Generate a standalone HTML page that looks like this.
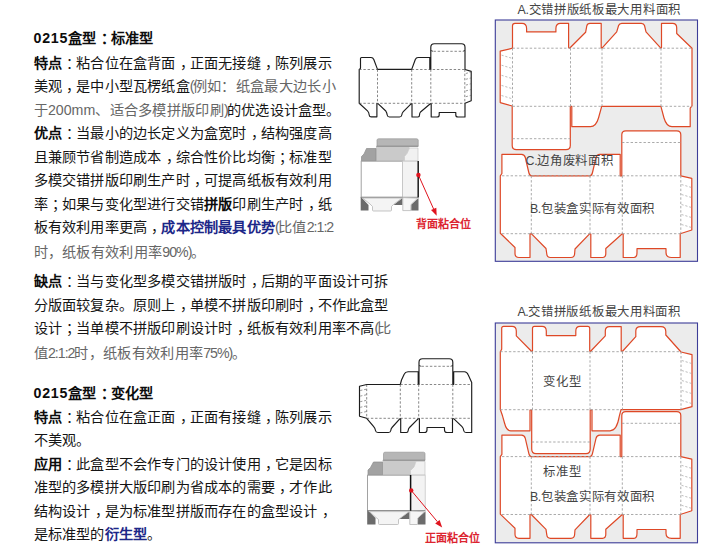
<!DOCTYPE html>
<html lang="zh-CN">
<head>
<meta charset="utf-8">
<title>0215盒型</title>
<style>
html,body{margin:0;padding:0;background:#fff;}
body{width:720px;height:560px;position:relative;overflow:hidden;font-family:"Liberation Sans",sans-serif;color:#151515;}
.ln{position:absolute;white-space:nowrap;font-size:14.2px;line-height:20.0px;height:20.0px;letter-spacing:0.2px;}
.ln i{font-style:normal;}
.pc{position:relative;left:0.3em;}
.ln i.dg{letter-spacing:0.75px;}
.ln i.nr{letter-spacing:-1px;}
.ln b{font-weight:700;color:#0c0c0c;}
.ln b.bl{color:#1c2788;}
.lt{font-weight:300;color:#666;letter-spacing:0.3px;}
.ln i.pr{letter-spacing:-1.7px;}
.ln i.pq{letter-spacing:-1.6px;}
.ln i.mm{letter-spacing:0;}
.pl{position:absolute;white-space:nowrap;font-size:12.4px;line-height:16px;height:16px;color:#444;letter-spacing:0.7px;font-weight:300;}
.pl i{font-style:normal;letter-spacing:-0.4px;}
.rl{position:absolute;white-space:nowrap;font-size:11px;line-height:16px;height:16px;color:#dc2430;font-weight:700;}
svg{position:absolute;left:0;top:0;}
</style>
</head>
<body>
<svg width="720" height="560" viewBox="0 0 720 560" fill="none">
<rect x="495.3" y="20" width="202.2" height="241.3" fill="#ececec" stroke="#3d3d98" stroke-width="1.1"/>
<rect x="495.3" y="323" width="202.2" height="219.8" fill="#ececec" stroke="#3d3d98" stroke-width="1.1"/>
<path d="M512.5,48.2 V25.8 Q512.5,23.3 515,23.3 H522 Q526.6,23.3 526.6,28.5 V31.9 H555.9 V28.5 Q555.9,23.3 560.5,23.3 H568.6 V47.6 L569.6,48.2 L585.6,32.3 L586.8,25.8 Q587.3,23.3 590,23.3 H601.2 V47.6 L602,48.2 L616.7,31.8 L618.6,25.5 Q619.3,23.3 621.8,23.3 H641.3 Q643.8,23.3 644.5,25.5 L646,31.8 L660.8,48.2 L661.5,47.6 V23.3 H672.5 Q676.7,23.3 676.7,27.8 V33.5 L692,48.2 V105.8 L690.2,108.2 V126.7 H672 Q666.5,126.7 664,118 L660.9,106.3 H601.7 L598.5,118 Q596,126.7 590.5,126.7 H571.8 V106.3 L570.3,106.3 V145.5 Q570.3,149.7 566,149.7 H516.5 Q512.2,149.7 512.2,145.5 V106 L500.2,102.6 V51.2 Z" fill="#fff" stroke="#de4826" stroke-width="1.2" stroke-linejoin="round"/>
<line x1="512.50" y1="48.20" x2="692.00" y2="48.20" stroke="#a0a0a0" stroke-width="0.9" stroke-dasharray="2.4 1.9"/>
<line x1="512.50" y1="106.30" x2="601.00" y2="106.30" stroke="#a0a0a0" stroke-width="0.9" stroke-dasharray="2.4 1.9"/>
<line x1="661.00" y1="106.30" x2="692.00" y2="106.30" stroke="#a0a0a0" stroke-width="0.9" stroke-dasharray="2.4 1.9"/>
<line x1="512.50" y1="48.20" x2="512.50" y2="106.30" stroke="#a0a0a0" stroke-width="0.9" stroke-dasharray="2.4 1.9"/>
<line x1="570.50" y1="48.20" x2="570.50" y2="106.30" stroke="#a0a0a0" stroke-width="0.9" stroke-dasharray="2.4 1.9"/>
<line x1="602.00" y1="48.20" x2="602.00" y2="106.30" stroke="#a0a0a0" stroke-width="0.9" stroke-dasharray="2.4 1.9"/>
<line x1="661.00" y1="48.20" x2="661.00" y2="106.30" stroke="#a0a0a0" stroke-width="0.9" stroke-dasharray="2.4 1.9"/>
<line x1="512.50" y1="138.70" x2="570.30" y2="138.70" stroke="#a0a0a0" stroke-width="0.9" stroke-dasharray="2.4 1.9"/>
<line x1="501.50" y1="55.10" x2="512.00" y2="58.30" stroke="#a0a0a0" stroke-width="0.7" stroke-dasharray="2.2 1.8"/>
<line x1="501.50" y1="65.20" x2="512.00" y2="68.40" stroke="#a0a0a0" stroke-width="0.7" stroke-dasharray="2.2 1.8"/>
<line x1="501.50" y1="75.30" x2="512.00" y2="78.50" stroke="#a0a0a0" stroke-width="0.7" stroke-dasharray="2.2 1.8"/>
<line x1="501.50" y1="85.40" x2="512.00" y2="88.60" stroke="#a0a0a0" stroke-width="0.7" stroke-dasharray="2.2 1.8"/>
<line x1="501.50" y1="95.50" x2="512.00" y2="98.70" stroke="#a0a0a0" stroke-width="0.7" stroke-dasharray="2.2 1.8"/>
<g transform="translate(0,0)">
<path d="M501.9,154.3 H521.5 Q524.5,154.3 525.3,157.5 L528.8,172.5 Q529.6,175.8 531.3,175.8 H590 Q591.7,175.8 592.5,172.5 L596,157.5 Q596.8,154.3 599.8,154.3 H620.2 V175.8 H621.8 V134.8 Q621.8,130.8 625.8,130.8 H676.8 Q680.8,130.8 680.8,134.8 V175.8 L691.8,178.4 V230 L680.2,233.7 V257.5 H671.5 Q666,257.5 666,252.5 V248.7 H637 V252.5 Q637,257.5 634,257.5 H623.2 V234 L622.3,233.7 L605.8,248.5 V253.5 Q605.8,257.5 602.5,257.5 H590.8 V234 L589.8,233.7 L575,249 L574.6,254 Q574.3,257.5 571,257.5 H550.5 Q547,257.5 546.8,254 L546,248.5 L531.3,233.7 L530,234 V257.5 H519 Q515,257.5 515,253.5 V247.5 L500.3,233.3 V175.8 L501.9,173.5 Z" fill="#fff" stroke="#de4826" stroke-width="1.2" stroke-linejoin="round"/>
<line x1="502.00" y1="175.80" x2="680.80" y2="175.80" stroke="#a0a0a0" stroke-width="0.9" stroke-dasharray="2.4 1.9"/>
<line x1="502.00" y1="233.70" x2="680.80" y2="233.70" stroke="#a0a0a0" stroke-width="0.9" stroke-dasharray="2.4 1.9"/>
<line x1="531.30" y1="175.80" x2="531.30" y2="233.70" stroke="#a0a0a0" stroke-width="0.9" stroke-dasharray="2.4 1.9"/>
<line x1="590.00" y1="175.80" x2="590.00" y2="233.70" stroke="#a0a0a0" stroke-width="0.9" stroke-dasharray="2.4 1.9"/>
<line x1="622.30" y1="175.80" x2="622.30" y2="233.70" stroke="#a0a0a0" stroke-width="0.9" stroke-dasharray="2.4 1.9"/>
<line x1="680.80" y1="175.80" x2="680.80" y2="233.70" stroke="#a0a0a0" stroke-width="0.9" stroke-dasharray="2.4 1.9"/>
<line x1="622.00" y1="142.50" x2="680.80" y2="142.50" stroke="#a0a0a0" stroke-width="0.9" stroke-dasharray="2.4 1.9"/>
<line x1="681.50" y1="184.50" x2="691.50" y2="187.50" stroke="#a0a0a0" stroke-width="0.7" stroke-dasharray="2.2 1.8"/>
<line x1="681.50" y1="194.50" x2="691.50" y2="197.50" stroke="#a0a0a0" stroke-width="0.7" stroke-dasharray="2.2 1.8"/>
<line x1="681.50" y1="204.50" x2="691.50" y2="207.50" stroke="#a0a0a0" stroke-width="0.7" stroke-dasharray="2.2 1.8"/>
<line x1="681.50" y1="214.50" x2="691.50" y2="217.50" stroke="#a0a0a0" stroke-width="0.7" stroke-dasharray="2.2 1.8"/>
<line x1="681.50" y1="224.50" x2="691.50" y2="227.50" stroke="#a0a0a0" stroke-width="0.7" stroke-dasharray="2.2 1.8"/>
</g>
<path d="M500.3,351.7 L501.7,349.2 V328.3 Q501.7,326.3 503.7,326.3 H512 Q516.3,326.3 516.3,331 V335.8 L531.7,351.5 L532.5,351 V328.3 Q532.5,326.3 534.5,326.3 H542 Q546.3,326.3 546.3,331 V335.6 H575.8 V331 Q575.8,326.3 580,326.3 H587.7 Q589.7,326.3 589.7,328.3 V351 L590.4,351.5 L605.3,335.8 V331 Q605.3,326.6 609.5,326.6 H621.2 V351 L622.3,351.5 L635.8,336.7 V331 Q635.8,326.6 640.5,326.6 H661 Q665.8,326.6 665.8,331.5 V335 L681,352 L692,354.7 V406.7 L680.8,409.7 H621 L619.2,416.7 C618,424 616,430.8 610,430.8 H592 V410 L590.2,410 V449 Q590.2,453.7 586,453.7 H536 Q531.7,453.7 531.7,449 V410 L530,410 V430.8 H510.8 C507,430.8 505.5,427 504.5,423 L502.5,415.8 L500.3,409.5 Z" fill="#fff" stroke="#de4826" stroke-width="1.2" stroke-linejoin="round"/>
<line x1="500.30" y1="351.70" x2="681.00" y2="351.70" stroke="#a0a0a0" stroke-width="0.9" stroke-dasharray="2.4 1.9"/>
<line x1="500.30" y1="409.70" x2="621.00" y2="409.70" stroke="#a0a0a0" stroke-width="0.9" stroke-dasharray="2.4 1.9"/>
<line x1="532.50" y1="351.70" x2="532.50" y2="409.70" stroke="#a0a0a0" stroke-width="0.9" stroke-dasharray="2.4 1.9"/>
<line x1="590.00" y1="351.70" x2="590.00" y2="409.70" stroke="#a0a0a0" stroke-width="0.9" stroke-dasharray="2.4 1.9"/>
<line x1="622.50" y1="351.70" x2="622.50" y2="409.70" stroke="#a0a0a0" stroke-width="0.9" stroke-dasharray="2.4 1.9"/>
<line x1="681.00" y1="351.70" x2="681.00" y2="409.70" stroke="#a0a0a0" stroke-width="0.9" stroke-dasharray="2.4 1.9"/>
<line x1="531.70" y1="442.00" x2="590.20" y2="442.00" stroke="#a0a0a0" stroke-width="0.9" stroke-dasharray="2.4 1.9"/>
<line x1="681.80" y1="360.50" x2="691.60" y2="363.50" stroke="#a0a0a0" stroke-width="0.7" stroke-dasharray="2.2 1.8"/>
<line x1="681.80" y1="370.50" x2="691.60" y2="373.50" stroke="#a0a0a0" stroke-width="0.7" stroke-dasharray="2.2 1.8"/>
<line x1="681.80" y1="380.50" x2="691.60" y2="383.50" stroke="#a0a0a0" stroke-width="0.7" stroke-dasharray="2.2 1.8"/>
<line x1="681.80" y1="390.50" x2="691.60" y2="393.50" stroke="#a0a0a0" stroke-width="0.7" stroke-dasharray="2.2 1.8"/>
<line x1="681.80" y1="400.50" x2="691.60" y2="403.50" stroke="#a0a0a0" stroke-width="0.7" stroke-dasharray="2.2 1.8"/>
<g transform="translate(0,280.8)">
<path d="M501.9,154.3 H521.5 Q524.5,154.3 525.3,157.5 L528.8,172.5 Q529.6,175.8 531.3,175.8 H590 Q591.7,175.8 592.5,172.5 L596,157.5 Q596.8,154.3 599.8,154.3 H620.2 V175.8 H621.8 V134.8 Q621.8,130.8 625.8,130.8 H676.8 Q680.8,130.8 680.8,134.8 V175.8 L691.8,178.4 V230 L680.2,233.7 V257.5 H671.5 Q666,257.5 666,252.5 V248.7 H637 V252.5 Q637,257.5 634,257.5 H623.2 V234 L622.3,233.7 L605.8,248.5 V253.5 Q605.8,257.5 602.5,257.5 H590.8 V234 L589.8,233.7 L575,249 L574.6,254 Q574.3,257.5 571,257.5 H550.5 Q547,257.5 546.8,254 L546,248.5 L531.3,233.7 L530,234 V257.5 H519 Q515,257.5 515,253.5 V247.5 L500.3,233.3 V175.8 L501.9,173.5 Z" fill="#fff" stroke="#de4826" stroke-width="1.2" stroke-linejoin="round"/>
<line x1="502.00" y1="175.80" x2="680.80" y2="175.80" stroke="#a0a0a0" stroke-width="0.9" stroke-dasharray="2.4 1.9"/>
<line x1="502.00" y1="233.70" x2="680.80" y2="233.70" stroke="#a0a0a0" stroke-width="0.9" stroke-dasharray="2.4 1.9"/>
<line x1="531.30" y1="175.80" x2="531.30" y2="233.70" stroke="#a0a0a0" stroke-width="0.9" stroke-dasharray="2.4 1.9"/>
<line x1="590.00" y1="175.80" x2="590.00" y2="233.70" stroke="#a0a0a0" stroke-width="0.9" stroke-dasharray="2.4 1.9"/>
<line x1="622.30" y1="175.80" x2="622.30" y2="233.70" stroke="#a0a0a0" stroke-width="0.9" stroke-dasharray="2.4 1.9"/>
<line x1="680.80" y1="175.80" x2="680.80" y2="233.70" stroke="#a0a0a0" stroke-width="0.9" stroke-dasharray="2.4 1.9"/>
<line x1="622.00" y1="142.50" x2="680.80" y2="142.50" stroke="#a0a0a0" stroke-width="0.9" stroke-dasharray="2.4 1.9"/>
<line x1="681.50" y1="184.50" x2="691.50" y2="187.50" stroke="#a0a0a0" stroke-width="0.7" stroke-dasharray="2.2 1.8"/>
<line x1="681.50" y1="194.50" x2="691.50" y2="197.50" stroke="#a0a0a0" stroke-width="0.7" stroke-dasharray="2.2 1.8"/>
<line x1="681.50" y1="204.50" x2="691.50" y2="207.50" stroke="#a0a0a0" stroke-width="0.7" stroke-dasharray="2.2 1.8"/>
<line x1="681.50" y1="214.50" x2="691.50" y2="217.50" stroke="#a0a0a0" stroke-width="0.7" stroke-dasharray="2.2 1.8"/>
<line x1="681.50" y1="224.50" x2="691.50" y2="227.50" stroke="#a0a0a0" stroke-width="0.7" stroke-dasharray="2.2 1.8"/>
</g>
<path d="M359.2,69.5 L360.5,68.3 V58.5 Q360.5,57.5 361.5,57.5 H371 Q373,57.5 373.8,59.5 L377.5,69.4 H411.7 L415.3,59.5 Q416.2,57.5 418,57.5 H429.8 V69.4 L430.8,69.4 V47.2 Q430.8,43.7 434.3,43.7 H461.5 Q465,43.7 465,47.2 V69.5 L471.2,71.4 V100.8 L465,103.3 V117 H458 Q455.8,117 455.8,115 V112.5 H439.2 V115 Q439.2,117 437,117 H431.2 V103.6 L430.3,103.7 L420.8,111.7 Q419.5,113 419.5,115 Q419.5,117 418,117 H412 V103.6 L411.3,103.7 L403.3,111.7 Q402,113 401.8,115 Q401.5,117 399.5,117 H389.5 Q387.5,117 387.2,115 Q387,113 385.8,111 L378,103.7 L376.9,103.6 V116.8 H371 Q369.3,116.8 369.2,115 Q369,112.2 367.5,110.8 L359.2,103.3 Z" fill="#fff" stroke="#1c1c1c" stroke-width="1.15" stroke-linejoin="round"/>
<line x1="359.20" y1="69.50" x2="377.50" y2="69.50" stroke="#555" stroke-width="0.7" stroke-dasharray="2.4 1.8"/>
<line x1="411.70" y1="69.50" x2="465.00" y2="69.50" stroke="#555" stroke-width="0.7" stroke-dasharray="2.4 1.8"/>
<line x1="359.20" y1="103.30" x2="465.00" y2="103.30" stroke="#555" stroke-width="0.7" stroke-dasharray="2.4 1.8"/>
<line x1="377.50" y1="69.50" x2="377.50" y2="103.30" stroke="#555" stroke-width="0.7" stroke-dasharray="2.4 1.8"/>
<line x1="411.70" y1="69.50" x2="411.70" y2="103.30" stroke="#555" stroke-width="0.7" stroke-dasharray="2.4 1.8"/>
<line x1="430.80" y1="69.50" x2="430.80" y2="103.30" stroke="#555" stroke-width="0.7" stroke-dasharray="2.4 1.8"/>
<line x1="464.80" y1="69.50" x2="464.80" y2="103.30" stroke="#555" stroke-width="0.7" stroke-dasharray="2.4 1.8"/>
<line x1="433.50" y1="51.30" x2="462.50" y2="51.30" stroke="#555" stroke-width="0.7" stroke-dasharray="2.4 1.8"/>
<path d="M430.8,50.5 L433,51.3 M465,50.5 L462.8,51.3" stroke="#1c1c1c" stroke-width="0.8" fill="none"/>
<line x1="465.80" y1="73.50" x2="470.80" y2="72.20" stroke="#555" stroke-width="0.6" stroke-dasharray="2.2 1.8"/>
<line x1="465.80" y1="79.30" x2="470.80" y2="78.00" stroke="#555" stroke-width="0.6" stroke-dasharray="2.2 1.8"/>
<line x1="465.80" y1="85.10" x2="470.80" y2="83.80" stroke="#555" stroke-width="0.6" stroke-dasharray="2.2 1.8"/>
<line x1="465.80" y1="90.90" x2="470.80" y2="89.60" stroke="#555" stroke-width="0.6" stroke-dasharray="2.2 1.8"/>
<line x1="465.80" y1="96.70" x2="470.80" y2="95.40" stroke="#555" stroke-width="0.6" stroke-dasharray="2.2 1.8"/>
<path d="M366.7,384.5 L359.5,386.3 V416.3 L366.7,418.3 L373.7,426.7 Q375.3,428.5 375.5,430.5 Q375.8,432.5 378,432.5 H388.5 Q390.5,432.5 390.8,430.5 Q391,428.5 392,427.5 L400,418.7 L400.7,418.6 V432.5 H406.5 Q408,432.5 408.2,430.5 Q408.3,428.5 409.5,427.5 L418.3,418.7 L419.4,418.6 V432.5 H424.5 Q427,432.5 427,430 V427.5 H444.5 V430 Q444.5,432.5 447,432.5 H452.5 V418.6 L453.7,418.7 L462,426.7 Q463.5,428.3 463.7,430.5 Q464,432.5 466,432.5 H471.7 V382.5 L468.3,375 Q467,371.7 464.5,371.7 H453.7 V384.3 L452.8,384.3 V362.2 Q452.8,358.7 449.3,358.7 H422.5 Q419,358.7 419,362.2 V384.3 L418.2,384.3 V371.7 H408 Q405.3,371.7 404.3,374 L401.5,380 L400.3,384.5 Z" fill="#fff" stroke="#1c1c1c" stroke-width="1.15" stroke-linejoin="round"/>
<line x1="400.30" y1="384.50" x2="471.70" y2="384.50" stroke="#555" stroke-width="0.7" stroke-dasharray="2.4 1.8"/>
<line x1="366.70" y1="418.30" x2="471.70" y2="418.30" stroke="#555" stroke-width="0.7" stroke-dasharray="2.4 1.8"/>
<line x1="366.70" y1="384.50" x2="366.70" y2="418.30" stroke="#555" stroke-width="0.7" stroke-dasharray="2.4 1.8"/>
<line x1="400.30" y1="384.50" x2="400.30" y2="418.30" stroke="#555" stroke-width="0.7" stroke-dasharray="2.4 1.8"/>
<line x1="418.70" y1="384.50" x2="418.70" y2="418.30" stroke="#555" stroke-width="0.7" stroke-dasharray="2.4 1.8"/>
<line x1="452.80" y1="384.50" x2="452.80" y2="418.30" stroke="#555" stroke-width="0.7" stroke-dasharray="2.4 1.8"/>
<line x1="421.50" y1="366.30" x2="450.50" y2="366.30" stroke="#555" stroke-width="0.7" stroke-dasharray="2.4 1.8"/>
<path d="M419,365.5 L421.2,366.3 M452.8,365.5 L450.6,366.3" stroke="#1c1c1c" stroke-width="0.8" fill="none"/>
<line x1="360.20" y1="390.50" x2="366.30" y2="389.20" stroke="#555" stroke-width="0.6" stroke-dasharray="2.2 1.8"/>
<line x1="360.20" y1="396.10" x2="366.30" y2="394.80" stroke="#555" stroke-width="0.6" stroke-dasharray="2.2 1.8"/>
<line x1="360.20" y1="401.70" x2="366.30" y2="400.40" stroke="#555" stroke-width="0.6" stroke-dasharray="2.2 1.8"/>
<line x1="360.20" y1="407.30" x2="366.30" y2="406.00" stroke="#555" stroke-width="0.6" stroke-dasharray="2.2 1.8"/>
<line x1="360.20" y1="412.90" x2="366.30" y2="411.60" stroke="#555" stroke-width="0.6" stroke-dasharray="2.2 1.8"/>
<path d="M377.0,146.0 V140.3 Q377.0,138.8 378.5,138.8 H416.7 Q418.2,138.8 418.2,140.3 V146.0 Z" fill="#b6b6b6" stroke="#9a9a9a" stroke-width="0.7"/>
<line x1="376.2" y1="146.4" x2="418.4" y2="146.4" stroke="#888" stroke-width="0.9"/>
<polygon points="376,147 409.5,147 409.5,148 407,153.5 404.5,156.5 404.5,161 376,161" fill="#cacaca"/>
<polygon points="409.5,148 418,148 418,161 404.5,161 404.5,156.5 407,153.5" fill="#f1f1f1" stroke="#c4c4c4" stroke-width="0.7"/>
<polygon points="361.5,161 361.5,156.5 364,154 366.5,148.5 376,148.5 376,161" fill="#a2a2a2" stroke="#8c8c8c" stroke-width="0.7"/>
<rect x="361.2" y="161.2" width="41.3" height="36.1" fill="#fff" stroke="#a2a2a2" stroke-width="1"/>
<rect x="402.5" y="161.2" width="15.5" height="36.1" fill="#f3f3f3" stroke="#c6c6c6" stroke-width="0.8"/>
<line x1="360.7" y1="197.3" x2="418.0" y2="197.3" stroke="#8a8a8a" stroke-width="0.9"/>
<polygon points="360.7,197.3 360.7,210.6 368.5,210.6 368.5,205 362,198" fill="#6b6b6b"/>
<polygon points="393.5,205 402.5,198 402.5,205" fill="#6b6b6b"/>
<polygon points="411.2,204.5 418.5,198 418.5,210.6 411.2,210.6" fill="#6b6b6b"/>
<path d="M362.5,198 L370,204 L372.5,206.5 V210 Q372.5,211 373.5,211 H390.5 Q391.5,211 391.5,210 V206.5 L393.5,204.5 L402,198 Z" fill="#f4f4f4" stroke="#b6b6b6" stroke-width="0.8" stroke-linejoin="round"/>
<path d="M402.8,197.6 V210.6 H410.8 L411,204.5 L417.6,198.2 Z" fill="#f6f6f6" stroke="#b6b6b6" stroke-width="0.8" stroke-linejoin="round"/>
<line x1="418.2" y1="161" x2="418.2" y2="197.5" stroke="#111" stroke-width="1.4"/>
<path d="M383.5,460.0 V453.7 Q383.5,452.2 385.0,452.2 H423.5 Q425.0,452.2 425.0,453.7 V460.0 Z" fill="#b6b6b6" stroke="#9a9a9a" stroke-width="0.7"/>
<line x1="382.7" y1="460.4" x2="425.2" y2="460.4" stroke="#888" stroke-width="0.9"/>
<polygon points="382.5,461 416,461 416,461.5 414,467 410.5,470.5 410.5,475 382.5,475" fill="#cacaca"/>
<polygon points="416,461.5 425,461.5 425,475 410.5,475 410.5,470.5 414,467" fill="#f1f1f1" stroke="#c4c4c4" stroke-width="0.7"/>
<polygon points="368,475 368,470 370.5,467.5 373.5,462 382.5,462 382.5,475" fill="#a2a2a2" stroke="#8c8c8c" stroke-width="0.7"/>
<rect x="367.5" y="475.2" width="43.0" height="35.4" fill="#fff" stroke="#a2a2a2" stroke-width="1"/>
<rect x="410.5" y="475.2" width="14.7" height="35.4" fill="#f3f3f3" stroke="#c6c6c6" stroke-width="0.8"/>
<line x1="367.0" y1="510.6" x2="425.2" y2="510.6" stroke="#8a8a8a" stroke-width="0.9"/>
<polygon points="367.2,510.6 367.2,524.5 375.5,524.5 375.5,518 369,511.6" fill="#6b6b6b"/>
<polygon points="399,519 409.5,511.5 409.5,519" fill="#6b6b6b"/>
<polygon points="418,518 425.5,511.2 425.5,524.5 418,524.5" fill="#6b6b6b"/>
<path d="M369.5,511.6 L376,517.5 L378.5,519.5 V523.5 Q378.5,524.5 379.5,524.5 H397.5 Q398.5,524.5 398.5,523.5 V519.5 L409,511.6 Z" fill="#f4f4f4" stroke="#b6b6b6" stroke-width="0.8" stroke-linejoin="round"/>
<path d="M409.8,511 V524.5 H417.5 L417.8,518 L424.5,511.8 Z" fill="#f6f6f6" stroke="#b6b6b6" stroke-width="0.8" stroke-linejoin="round"/>
<line x1="410.6" y1="475" x2="410.6" y2="510.8" stroke="#111" stroke-width="1.5"/>
<line x1="418.4" y1="175.0" x2="433.6" y2="209.0" stroke="#e0141e" stroke-width="1"/>
<polygon points="436.7,215.8 431.0,210.1 436.3,207.8" fill="#e0141e"/>
<circle cx="418.4" cy="175.0" r="2.2" fill="#e0141e"/>
<line x1="411.2" y1="490.4" x2="437.4" y2="521.7" stroke="#e0141e" stroke-width="1"/>
<polygon points="442.2,527.5 435.2,523.6 439.6,519.9" fill="#e0141e"/>
<circle cx="411.2" cy="490.4" r="2.2" fill="#e0141e"/>
</svg>
<div class="ln" style="left:33.60px;top:28.30px"><b><i class="dg">0215</i>盒型<span class="pc">：</span>标准型</b></div>
<div class="ln" style="left:33.60px;top:52.80px"><b>特点</b><span class="pc">：</span>粘合位在盒背面<span class="pc">，</span>正面无接缝<span class="pc">，</span>陈列展示</div>
<div class="ln" style="left:33.60px;top:76.20px">美观<span class="pc">，</span>是中小型瓦楞纸盒<span class="lt"><i class="pr">(</i>例如：纸盒最大边长小</span></div>
<div class="ln" style="left:33.60px;top:100.00px"><span class="lt">于<i class="mm">200mm</i>、适合多模拼版印刷<i class="pq">)</i></span>的优选设计盒型。</div>
<div class="ln" style="left:33.60px;top:122.90px"><b>优点</b><span class="pc">：</span>当最小的边长定义为盒宽时<span class="pc">，</span>结构强度高</div>
<div class="ln" style="left:33.60px;top:147.00px">且兼顾节省制造成本<span class="pc">，</span>综合性价比均衡<span class="pc">；</span>标准型</div>
<div class="ln" style="left:33.60px;top:170.30px">多模交错拼版印刷生产时<span class="pc">，</span>可提高纸板有效利用</div>
<div class="ln" style="left:33.60px;top:193.90px">率<span class="pc">；</span>如果与变化型进行交错<b>拼版</b>印刷生产时<span class="pc">，</span>纸</div>
<div class="ln" style="left:33.60px;top:217.30px">板有效利用率更高<span class="pc">，</span><b class="bl">成本控制最具优势</b><span class="lt"><i class="pr">(</i>比值<i class="nr">2:1:2</i></span></div>
<div class="ln" style="left:33.60px;top:241.60px"><span class="lt">时，纸板有效利用率<i class="nr">90%</i><i class="pq">)</i>。</span></div>
<div class="ln" style="left:33.60px;top:271.30px"><b>缺点</b><span class="pc">：</span>当与变化型多模交错拼版时<span class="pc">，</span>后期的平面设计可拆</div>
<div class="ln" style="left:33.60px;top:294.80px">分版面较复杂。原则上<span class="pc">，</span>单模不拼版印刷时<span class="pc">，</span>不作此盒型</div>
<div class="ln" style="left:33.60px;top:318.10px">设计<span class="pc">；</span>当单模不拼版印刷设计时<span class="pc">，</span>纸板有效利用率不高<span class="lt"><i class="pr">(</i>比</span></div>
<div class="ln" style="left:33.60px;top:342.90px"><span class="lt">值<i class="nr">2:1:2</i>时，纸板有效利用率<i class="nr">75%</i><i class="pq">)</i>。</span></div>
<div class="ln" style="left:33.60px;top:382.80px"><b><i class="dg">0215</i>盒型<span class="pc">：</span>变化型</b></div>
<div class="ln" style="left:33.60px;top:406.70px"><b>特点</b><span class="pc">：</span>粘合位在盒正面<span class="pc">，</span>正面有接缝<span class="pc">，</span>陈列展示</div>
<div class="ln" style="left:33.60px;top:430.20px">不美观。</div>
<div class="ln" style="left:33.60px;top:454.00px"><b>应用</b><span class="pc">：</span>此盒型不会作专门的设计使用<span class="pc">，</span>它是因标</div>
<div class="ln" style="left:33.60px;top:477.40px">准型的多模拼大版印刷为省成本的需要<span class="pc">，</span>才作此</div>
<div class="ln" style="left:33.60px;top:500.90px">结构设计<span class="pc">，</span>是为标准型拼版而存在的盒型设计<span class="pc">，</span></div>
<div class="ln" style="left:33.60px;top:524.40px">是标准型的<b class="bl">衍生型</b>。</div>
<div class="pl" style="left:517.6px;top:1.8px"><i>A.</i>交错拼版纸板最大用料面积</div>
<div class="pl" style="left:525.6px;top:152.8px"><i>C.</i>边角废料面积</div>
<div class="pl" style="left:529.9px;top:201.2px"><i>B.</i>包装盒实际有效面积</div>
<div class="pl" style="left:517.4px;top:303.7px"><i>A.</i>交错拼版纸板最大用料面积</div>
<div class="pl" style="left:543.3px;top:373.7px">变化型</div>
<div class="pl" style="left:543.3px;top:463.7px">标准型</div>
<div class="pl" style="left:529.9px;top:489.0px"><i>B.</i>包装盒实际有效面积</div>
<div class="rl" style="left:415.6px;top:215.6px">背面粘合位</div>
<div class="rl" style="left:424.5px;top:530.4px">正面粘合位</div>
</body>
</html>
